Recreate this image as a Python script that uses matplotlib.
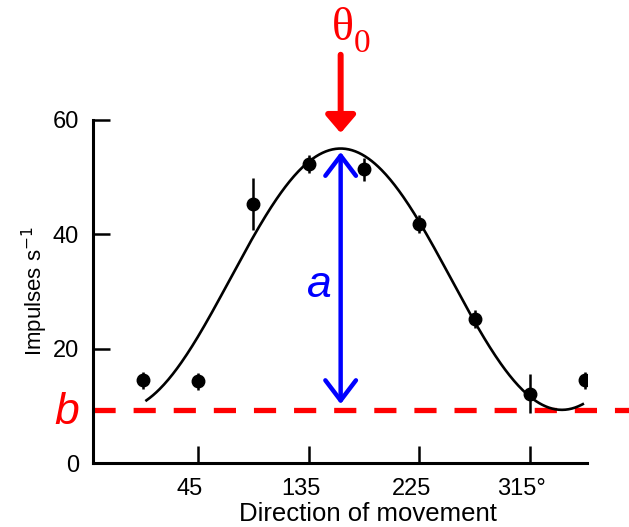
import numpy as np
import matplotlib
matplotlib.use("Agg")
import matplotlib.pyplot as plt
from matplotlib.transforms import ScaledTranslation

plt.rcParams['font.family'] = ['Liberation Sans', 'DejaVu Sans']

# Messwerte (Richtung in Grad, Impulse/s, Fehlerbalken)
richtung = [0, 45, 90, 135, 180, 225, 270, 315, 360]
impulse = [14.5, 14.3, 45.3, 52.3, 51.4, 41.8, 25.2, 12.1, 14.5]
fehler = [1.5, 1.5, 4.5, 1.5, 2.0, 1.5, 1.5, 3.4, 1.5]

# Parameter der Kosinus-Anpassung
theta0 = 161.0   # bevorzugte Richtung
a = 45.7         # Amplitude
b = 9.3          # Grundrate

xticks = [45, 135, 225, 315]
xticklabels = ['45', '135', '225', '315°']
yticks = [0, 20, 40, 60]

fig = plt.figure(figsize=(6.29, 5.27), dpi=100)
ax = fig.add_axes([0.148, 0.1214, 0.785, 0.651])

# angepasste Kurve
th = np.linspace(3, 358, 400)
kurve = b + a * (1 + np.cos(np.radians(th - theta0))) / 2
ax.plot(th, kurve, color='black', lw=1.9, zorder=3)

# Messpunkte
ax.errorbar(richtung, impulse, yerr=fehler, fmt='o', color='black',
            ms=9, elinewidth=1.8, capsize=0, zorder=4)

ax.set_xlim(-40.4, 361.3)
ax.set_ylim(0, 60)
ax.set_xticks(xticks)
ax.set_xticklabels(xticklabels)
ax.set_yticks(yticks)
ax.tick_params(direction='in', length=12, width=1.8, labelsize=17, pad=10)
ax.tick_params(axis='x', pad=11)
# Beschriftungen der x-Ticks leicht nach links versetzt wie im Original
versatz = ScaledTranslation(-0.08, 0, fig.dpi_scale_trans)
for lbl in ax.get_xticklabels():
    lbl.set_transform(lbl.get_transform() + versatz)
for s in ['top', 'right']:
    ax.spines[s].set_visible(False)
for s in ['left', 'bottom']:
    ax.spines[s].set_linewidth(2.2)

ax.set_xlabel('Direction of movement', fontsize=18.5)
ax.xaxis.set_label_coords(0.557, -0.115)
ax.set_ylabel('Impulses s$^{-1}$', fontsize=16, labelpad=2)

# Grundrate b (gestrichelt, bis zum Bildrand)
ax.plot([-40.4, 400], [b, b], color='red', lw=3.8, dashes=(4.2, 3.4),
        clip_on=False, zorder=2)
ax.text(-62, b - 0.5, 'b', color='red', fontsize=32, style='italic',
        ha='center', va='center', clip_on=False)

# Amplitude a (Doppelpfeil)
ax.annotate('', xy=(theta0, b + 1.0), xytext=(theta0, b + a - 0.6),
            arrowprops=dict(arrowstyle='<->,head_length=1.45,head_width=1.1',
                            color='blue', lw=3.2, shrinkA=0, shrinkB=0),
            zorder=5)
ax.text(theta0 - 17, 31, 'a', color='blue', fontsize=32, style='italic',
        ha='center', va='center')

# bevorzugte Richtung theta0 (Pfeil von oben)
ax.annotate('', xy=(theta0, 57.7), xytext=(theta0, 71.4),
            arrowprops=dict(arrowstyle='-|>,head_length=1.05,head_width=0.9',
                            color='red', lw=4.3, shrinkA=0, shrinkB=0),
            annotation_clip=False)
ax.text(theta0 - 7.5, 72.2, 'θ', color='red', fontsize=33,
        family=['Liberation Serif', 'DejaVu Serif'], ha='left', va='bottom')
ax.text(theta0 + 11, 70.6, '0', color='red', fontsize=24,
        family=['Liberation Serif', 'DejaVu Serif'], ha='left', va='bottom')

fig.savefig('out.png', dpi=100)
